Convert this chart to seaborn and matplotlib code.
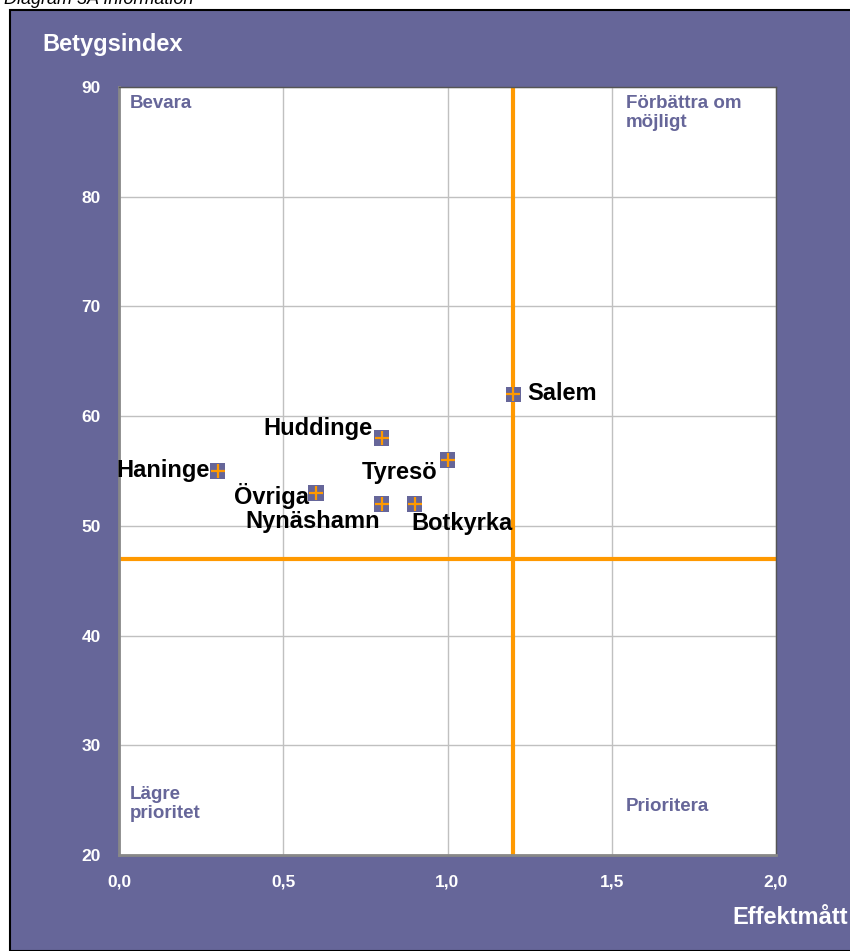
import matplotlib
matplotlib.use("Agg")
import matplotlib.pyplot as plt
import seaborn as sns
import pandas as pd
from matplotlib.patches import Rectangle

# data
kommuner = ["Haninge", "Övriga", "Huddinge", "Nynäshamn", "Botkyrka", "Tyresö", "Salem"]
effekt = [0.3, 0.6, 0.8, 0.8, 0.9, 1.0, 1.2]
betyg = [55, 53, 58, 52, 52, 56, 62]
# label offsets in pixels (dx, dy) and alignment
offsets = [(-8, 0, "right"), (-7, -3, "right"), (-9, 10, "right"),
           (-2, -18, "right"), (-3, -20, "left"), (-10, -12, "right"), (14, 1, "left")]
x_ref = 1.2
y_ref = 47
x_ticks = [0.0, 0.5, 1.0, 1.5, 2.0]
y_ticks = [20, 30, 40, 50, 60, 70, 80, 90]

purple = "#666699"
orange = "#FF9900"

df = pd.DataFrame({"kommun": kommuner, "effekt": effekt, "betyg": betyg})

sns.set_style("white")
plt.rcParams["font.family"] = ["Liberation Sans", "DejaVu Sans"]

fig = plt.figure(figsize=(8.5, 9.51), dpi=100)
fig.patch.set_facecolor("white")
fig.patches.append(Rectangle((10 / 850, 0), 1, 1 - 10 / 951, transform=fig.transFigure,
                             facecolor=purple, edgecolor="black", linewidth=1.5, zorder=-5))
fig.text(0.005, 1.0, "Diagram 3A Information", style="italic", fontsize=13,
         color="black", ha="left", va="center")

ax = fig.add_axes([119 / 850, 1 - 855 / 951, (776 - 119) / 850, (855 - 87) / 951])
ax.set_zorder(2)
ax.set_facecolor("white")
ax.set_xlim(0, 2)
ax.set_ylim(20, 90)
ax.set_xticks(x_ticks)
ax.set_yticks(y_ticks)
ax.set_xticklabels([f"{t:.1f}".replace(".", ",") for t in x_ticks])
ax.set_yticklabels([str(t) for t in y_ticks])
ax.tick_params(colors="white", labelsize=12.5, length=0)
ax.tick_params(axis="x", pad=14)
ax.tick_params(axis="y", pad=13)
for lab in ax.get_xticklabels() + ax.get_yticklabels():
    lab.set_fontweight("bold")
ax.grid(True, color="#c0c0c0", linewidth=1)
ax.set_axisbelow(True)
for side in ["left", "bottom"]:
    ax.spines[side].set_color("#888888")
    ax.spines[side].set_linewidth(2)
for side in ["right", "top"]:
    ax.spines[side].set_color("#555555")
    ax.spines[side].set_linewidth(1)

ax.axvline(x_ref, color=orange, linewidth=3, zorder=2)
ax.axhline(y_ref, color=orange, linewidth=3, zorder=2)

sns.scatterplot(data=df, x="effekt", y="betyg", marker="s", s=120, color=purple,
                edgecolor="none", ax=ax, zorder=3)
sns.scatterplot(data=df, x="effekt", y="betyg", marker="+", s=110, color=orange,
                linewidth=1.6, ax=ax, zorder=4)
ax.set_xlabel("")
ax.set_ylabel("")

for name, xv, yv, (dx, dy, ha) in zip(kommuner, effekt, betyg, offsets):
    ax.annotate(name, (xv, yv), xytext=(dx, dy), textcoords="offset pixels",
                ha=ha, va="center", fontsize=17, fontweight="bold", color="black", zorder=5)

qstyle = dict(fontsize=13.5, fontweight="bold", color=purple, transform=ax.transAxes,
              va="top", ha="left", linespacing=1.15)
ax.text(0.016, 0.989, "Bevara", **qstyle)
ax.text(0.772, 0.989, "Förbättra om\nmöjligt", **qstyle)
ax.text(0.016, 0.09, "Lägre\nprioritet", **qstyle)
ax.text(0.772, 0.074, "Prioritera", **qstyle)

fig.text(42 / 850, 1 - 45 / 951, "Betygsindex", fontsize=17, fontweight="bold",
         color="white", ha="left", va="center")
fig.text(848 / 850, 1 - 918 / 951, "Effektmått", fontsize=17, fontweight="bold",
         color="white", ha="right", va="center")

fig.savefig("out.png", dpi=100)
